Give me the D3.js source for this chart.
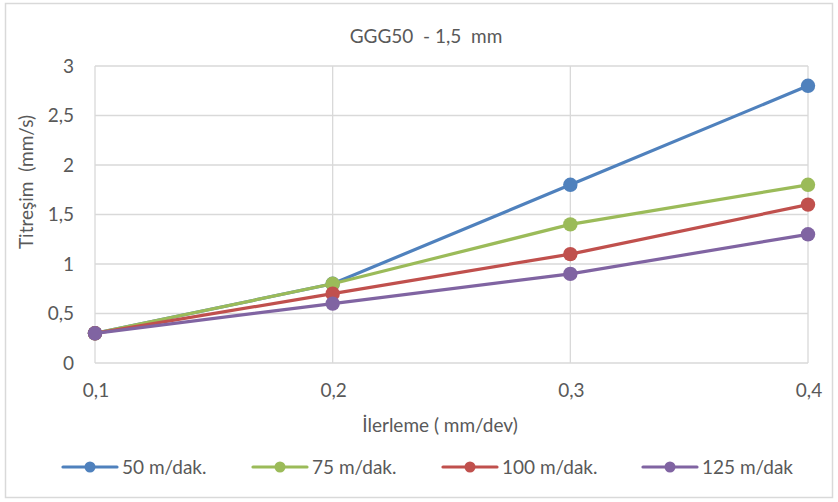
<!DOCTYPE html>
<html><head><meta charset="utf-8">
<script src="https://cdn.jsdelivr.net/npm/d3@7"></script>
<style>body{margin:0;background:#fff;}text{font-family:"Lato","Open Sans",sans-serif;fill:#595959;}</style>
</head><body><svg id="c" width="838" height="502"></svg>
<script>
const xValues = [0.1, 0.2, 0.3, 0.4];
const seriesNames = ["50 m/dak.", "75 m/dak.", "100 m/dak.", "125 m/dak"];
const s50 = [0.3, 0.8, 1.8, 2.8];
const s75 = [0.3, 0.8, 1.4, 1.8];
const s100 = [0.3, 0.7, 1.1, 1.6];
const s125 = [0.3, 0.6, 0.9, 1.3];
const yTicks = [0, 0.5, 1, 1.5, 2, 2.5, 3];
const colors = ["#4f81bd", "#9bbb59", "#c0504d", "#8064a2"];
const seriesValues = [s50, s75, s100, s125];

const svg = d3.select("#c");
svg.append("rect").attr("x",5.5).attr("y",3.5).attr("width",827).attr("height",494)
  .attr("fill","#fff").attr("stroke","#d9d9d9").attr("stroke-width",1.5);
const fmt = d => String(d).replace(".", ",");
const x = d3.scaleLinear().domain([0.1,0.4]).range([95,808]);
const y = d3.scaleLinear().domain([0,3]).range([363,66]);

const g = svg.append("g");
g.selectAll(".hg").data(yTicks).join("line").attr("x1",95).attr("x2",808)
  .attr("y1",d=>y(d)).attr("y2",d=>y(d)).attr("stroke","#d9d9d9").attr("stroke-width",1.3);
g.selectAll(".vg").data(xValues).join("line").attr("y1",66).attr("y2",363)
  .attr("x1",d=>x(d)).attr("x2",d=>x(d)).attr("stroke","#d9d9d9").attr("stroke-width",1.3);

g.selectAll(".yt").data(yTicks).join("text").attr("x",74).attr("y",d=>y(d)+6.5)
  .attr("text-anchor","end").attr("font-size",19).text(fmt);
g.selectAll(".xt").data(xValues).join("text").attr("x",d=>x(d)+1).attr("y",397)
  .attr("text-anchor","middle").attr("font-size",19).text(fmt);

svg.append("text").attr("x",426).attr("y",43).attr("text-anchor","middle").attr("font-size",19)
  .attr("xml:space","preserve").text("GGG50  - 1,5  mm");
svg.append("text").attr("transform","translate(33,182) rotate(-90)").attr("text-anchor","middle")
  .attr("font-size",19).attr("xml:space","preserve").text("Titreşim  (mm/s)");
svg.append("text").attr("x",440).attr("y",432).attr("text-anchor","middle").attr("font-size",19)
  .text("İlerleme ( mm/dev)");

const line = d3.line().x((d,i)=>x(xValues[i])).y(d=>y(d));
seriesValues.forEach((vals,k)=>{
  const sg = svg.append("g");
  sg.append("path").datum(vals).attr("d",line).attr("fill","none")
    .attr("stroke",colors[k]).attr("stroke-width",3.2).attr("stroke-linecap","round");
  sg.selectAll("circle").data(vals).join("circle").attr("cx",(d,i)=>x(xValues[i]))
    .attr("cy",d=>y(d)).attr("r",7.2).attr("fill",colors[k]);
});
const legX = [63, 253, 443, 643];
seriesNames.forEach((n,k)=>{
  const lg = svg.append("g").attr("transform",`translate(${legX[k]},467)`);
  lg.append("line").attr("x1",0).attr("x2",54).attr("stroke",colors[k]).attr("stroke-width",3.2).attr("stroke-linecap","round");
  lg.append("circle").attr("cx",27).attr("r",5.5).attr("fill",colors[k]);
  lg.append("text").attr("x",59).attr("y",6.5).attr("font-size",19).text(n);
});
</script></body></html>
